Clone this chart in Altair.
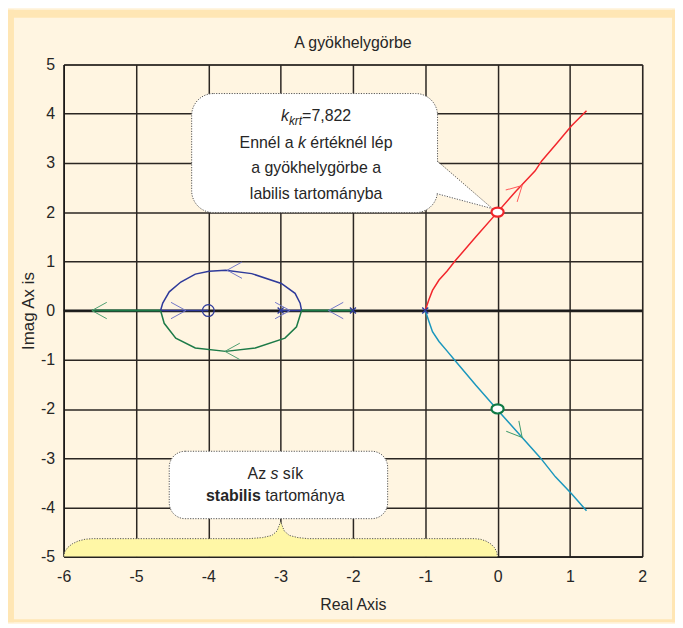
import altair as alt
import pandas as pd

# ---------------- data ----------------
red_x = [-1.0, -0.95, -0.90, -0.81, -0.70, -0.58, -0.30, 0.0, 0.25, 0.52, 0.61, 0.82, 1.02, 1.23]
red_y = [0.0, 0.22, 0.41, 0.62, 0.80, 1.02, 1.50, 2.0, 2.42, 2.84, 3.04, 3.40, 3.75, 4.06]

teal_x = [-1.0, -0.95, -0.90, -0.81, -0.70, -0.58, -0.30, 0.0, 0.34, 0.59, 0.80, 1.02, 1.23]
teal_y = [0.0, -0.22, -0.43, -0.63, -0.82, -1.03, -1.52, -2.02, -2.58, -2.99, -3.38, -3.72, -4.07]

blue_x = [-4.66, -4.63, -4.54, -4.38, -4.18, -3.99, -3.76, -3.40, -2.99, -2.80, -2.73, -2.71]
blue_y = [0.0, 0.15, 0.38, 0.58, 0.74, 0.80, 0.82, 0.75, 0.55, 0.35, 0.15, 0.0]

green_x = [-4.66, -4.61, -4.45, -4.18, -3.76, -3.35, -2.94, -2.78, -2.71]
green_y = [0.0, -0.26, -0.56, -0.76, -0.83, -0.76, -0.56, -0.33, 0.0]

# real-axis segments (start, end)
green_seg_start = [-5.61, -2.71]
green_seg_end = [-4.66, -2.0]
blue_seg_start = [-4.66, -3.0]
blue_seg_end = [-4.0, -2.71]

poles_x = [-1.0, -2.0, -3.0]
zeros_x = [-4.0]

cross_x = [0.0, 0.0]
cross_y = [2.0, -2.0]
cross_col = ["#f0262b", "#0f7a45"]

arrow_x = [-5.61, -4.31, -2.87, -2.34, -3.74, -3.77, 0.34, 0.34]
arrow_y = [0.0, 0.0, 0.0, 0.0, 0.82, -0.83, 2.54, -2.58]
arrow_ang = [180, 0, 0, 180, 180, 180, 316, 50]
arrow_col = ["#4f9e70", "#7377c8", "#7377c8", "#7377c8", "#7377c8", "#4f9e70", "#ff5a5a", "#3f9a6c"]

# brace (stable half-plane) outline
brace_x = [-6.0, -5.986, -5.946, -5.883, -5.8, -5.704, -5.6, -3.44, -3.25, -3.12, -3.05, -3.0,
           -2.95, -2.88, -2.76, -2.62, -0.32, -0.237, -0.16, -0.094, -0.043, -0.011, 0.0]
brace_y = [-5.0, -4.906, -4.818, -4.743, -4.685, -4.648, -4.636, -4.636, -4.615, -4.57, -4.48, -4.29,
           -4.48, -4.57, -4.615, -4.636, -4.636, -4.648, -4.685, -4.743, -4.818, -4.906, -5.0]

# callout boxes (x1, x2, y1, y2)
box1 = [-4.23, -0.83, 4.41, 1.99]
box2 = [-4.54, -1.52, -2.86, -4.23]
tail_x = [-0.86, -0.07]
tail_top = [3.06, 2.07]
tail_bot = [2.375, 2.07]

title_text = "A gyökhelygörbe"
x_title = "Real Axis"
y_title = "Imag Ax is"
x_ticks = [-6, -5, -4, -3, -2, -1, 0, 1, 2]
y_ticks = [-5, -4, -3, -2, -1, 0, 1, 2, 3, 4, 5]

b1_line1 = ["k", "krt", "=7,822"]
b1_line2 = ["Ennél a", "k", "értéknél lép"]
b1_line3 = "a gyökhelygörbe a"
b1_line4 = "labilis tartományba"
b2_line1 = ["Az", "s", "sík"]
b2_line2 = ["stabilis", "tartománya"]

# ---------------- styling ----------------
FONT = "Liberation Sans, Arial, Helvetica, sans-serif"
TXT = "#262626"
BLUE = "#2e3a9a"
GREEN = "#1c7a47"
RED = "#f2262c"
TEAL = "#1b97bd"
CREAM = "#FFF5E1"
BAND = "#FFE6B4"
DOT = [1.2, 1.4]

xs = alt.Scale(domain=[-6, 2], nice=False, zero=False)
ys = alt.Scale(domain=[-5, 5], nice=False, zero=False)
XAX = alt.Axis(values=x_ticks, title=x_title, labelPadding=12, titlePadding=12,
               labelFlush=False, labelOverlap=False, labelExpr="'' + datum.value")
YAX = alt.Axis(values=y_ticks, title=y_title, labelPadding=9, titlePadding=3,
               labelFlush=False, labelOverlap=False, titleFontSize=17, labelExpr="'' + datum.value")
X = lambda f="x": alt.X(f"{f}:Q", scale=xs, axis=XAX, title=x_title)
Y = lambda f="y": alt.Y(f"{f}:Q", scale=ys, axis=YAX, title=y_title)


def curve(xv, yv, color, width=1.5):
    df = pd.DataFrame({"x": xv, "y": yv, "o": list(range(len(xv)))})
    return alt.Chart(df).mark_line(color=color, strokeWidth=width).encode(x=X(), y=Y(), order="o:Q")


def segs(s, e, color, width=2):
    df = pd.DataFrame({"x": s, "x2": e, "y": [0.0] * len(s)})
    return alt.Chart(df).mark_rule(color=color, strokeWidth=width).encode(x=X(), x2="x2:Q", y=Y())


def txt(x, y, s, dx=0, dy=0, align="center", size=16, style="normal", weight="normal"):
    df = pd.DataFrame({"x": [x], "y": [y], "t": [s]})
    return alt.Chart(df).mark_text(align=align, baseline="middle", dx=dx, dy=dy, fontSize=size,
                                   fontStyle=style, fontWeight=weight, font=FONT, color=TXT).encode(
        x=X(), y=Y(), text="t:N")


one = pd.DataFrame({"a": [0]})


def band(x1, x2, y1, y2):
    return alt.Chart(one).mark_rect(color=BAND).encode(
        x=alt.value(x1), x2=alt.value(x2), y=alt.value(y1), y2=alt.value(y2))


frame = [band(-58, -50, -55, 561), band(-58, 615, -55, -47), band(612, 615, -55, 561), band(-58, 615, 558, 561)]

title_mark = alt.Chart(pd.DataFrame({"t": [title_text]})).mark_text(
    fontSize=16, font=FONT, color=TXT, align="center", baseline="middle").encode(
    x=alt.value(291), y=alt.value(-22), text="t:N")

zero_rule = alt.Chart(pd.DataFrame({"x": [-6.0], "x2": [2.0], "y": [0.0]})).mark_rule(
    color="#1a1a1a", strokeWidth=2).encode(x=X(), x2="x2:Q", y=Y())

brace_df = pd.DataFrame({"x": brace_x, "y": brace_y, "y2": [-5.0] * len(brace_x)})
brace = alt.Chart(brace_df).mark_area(color="#FFF7A6", opacity=1).encode(x=X(), y=Y(), y2="y2:Q")
brace_edge = alt.Chart(brace_df).mark_line(color="#555", strokeWidth=1, strokeDash=DOT).encode(x=X(), y=Y())

arr_df = pd.DataFrame({"x": arrow_x, "y": arrow_y, "a": arrow_ang, "c": arrow_col})
arrows = alt.Chart(arr_df).mark_point(shape="M -1 -0.55 L 0 0 L -1 0.55", filled=False, size=900,
                                      strokeWidth=1, opacity=1).encode(
    x=X(), y=Y(), angle=alt.Angle("a:Q", scale=None), stroke=alt.Stroke("c:N", scale=None))

poles = alt.Chart(pd.DataFrame({"x": poles_x, "y": [0.0] * len(poles_x)})).mark_point(
    shape="M -1 -1 L 1 1 M -1 1 L 1 -1", filled=False, size=36, strokeWidth=1.4, color=BLUE, opacity=1).encode(
    x=X(), y=Y())
zeros = alt.Chart(pd.DataFrame({"x": zeros_x, "y": [0.0]})).mark_point(
    shape="circle", filled=False, size=140, strokeWidth=1.3, color=BLUE, opacity=1).encode(x=X(), y=Y())

cross_df = pd.DataFrame({"x": cross_x, "y": cross_y, "c": cross_col})
crossings = alt.Chart(cross_df).mark_point(
    shape="M -1 0 A 1 0.75 0 1 1 1 0 A 1 0.75 0 1 1 -1 0 Z", filled=False, fill="white", fillOpacity=1,
    size=150, strokeWidth=2.2, opacity=1).encode(x=X(), y=Y(), stroke=alt.Stroke("c:N", scale=None))


def box(b, r):
    df = pd.DataFrame({"x": [b[0]], "x2": [b[1]], "y": [b[2]], "y2": [b[3]]})
    return alt.Chart(df).mark_rect(fill="white", stroke="#555", strokeWidth=1, strokeDash=DOT,
                                   cornerRadius=r).encode(x=X(), x2="x2:Q", y=Y(), y2="y2:Q")


tail_df = pd.DataFrame({"x": tail_x, "y": tail_top, "y2": tail_bot})
tail_fill = alt.Chart(tail_df).mark_area(color="white", opacity=1).encode(x=X(), y=Y(), y2="y2:Q")
tail_e1 = alt.Chart(pd.DataFrame({"x": [-0.83, tail_x[1]], "y": [3.035, tail_top[1]]})).mark_line(
    color="#555", strokeWidth=1, strokeDash=DOT).encode(x=X(), y=Y())
tail_e2 = alt.Chart(pd.DataFrame({"x": [-0.84, tail_x[1]], "y": [tail_bot[0], tail_bot[1]]})).mark_line(
    color="#555", strokeWidth=1, strokeDash=DOT).encode(x=X(), y=Y())

c1 = -2.509
c2 = -3.072
texts = [
    txt(c1, 3.949, b1_line1[0], dx=-35.4, align="left", style="italic"),
    txt(c1, 3.949, b1_line1[1], dx=-27.4, dy=5, align="left", style="italic", size=12),
    txt(c1, 3.949, b1_line1[2], dx=-14.1, align="left"),
    txt(c1, 3.404, b1_line2[0], dx=-77, align="left"),
    txt(c1, 3.404, b1_line2[1], dx=-18.2, align="left", style="italic"),
    txt(c1, 3.404, b1_line2[2], dx=-5.8, align="left"),
    txt(c1, 2.899, b1_line3),
    txt(c1, 2.374, b1_line4),
    txt(c2, -3.323, b2_line1[0], dx=-28, align="left"),
    txt(c2, -3.323, b2_line1[1], dx=-4.9, align="left", style="italic"),
    txt(c2, -3.323, b2_line1[2], dx=7.5, align="left"),
    txt(c2, -3.768, b2_line2[0], dx=-69.8, align="left", weight="bold"),
    txt(c2, -3.768, b2_line2[1], dx=-10.3, align="left"),
]

layers = frame + [
    title_mark, zero_rule, brace, brace_edge,
    segs(green_seg_start, green_seg_end, GREEN), segs(blue_seg_start, blue_seg_end, BLUE, 1.5),
    curve(blue_x, blue_y, BLUE), curve(green_x, green_y, GREEN),
    curve(red_x, red_y, RED), curve(teal_x, teal_y, TEAL),
    arrows, poles, zeros,
    box(box1, 22), tail_fill, tail_e1, tail_e2, box(box2, 16),
    crossings,
] + texts

chart = alt.layer(*layers).properties(
    width=582, height=495,
    background=CREAM,
    padding={"left": 56, "top": 55, "right": 33, "bottom": 66},
    autosize=alt.AutoSizeParams(type="none"),
).configure_view(stroke="#111", strokeWidth=1, fill=CREAM).configure_axis(
    grid=True, gridColor="#2b2622", gridWidth=1.5, gridOpacity=1, domainColor="#111", domainWidth=1,
    ticks=False, labelFont=FONT, labelFontSize=16, labelColor=TXT, titleFont=FONT, titleFontSize=16,
    titleFontWeight="normal", titleColor=TXT,
)

chart.save("out.html", embed_options={"renderer": "svg", "actions": False})
